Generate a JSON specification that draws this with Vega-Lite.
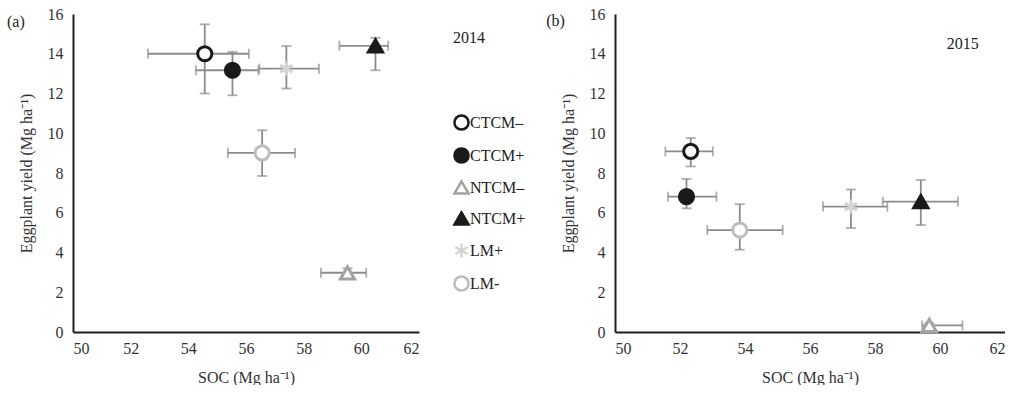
{
  "$schema": "https://vega.github.io/schema/vega-lite/v6.json",
  "background": "white",
  "padding": {"left": 7, "top": 6, "right": 0, "bottom": 0},
  "config": {
    "view": {"stroke": null},
    "font": "Liberation Serif",
    "axis": {
      "labelFont": "Liberation Serif",
      "labelFontSize": 16,
      "labelColor": "#333333",
      "titleFont": "Liberation Serif",
      "titleFontSize": 16,
      "titleFontWeight": "normal",
      "titleColor": "#333333",
      "domainColor": "#1e1e1e",
      "domainWidth": 2,
      "ticks": false,
      "grid": false,
      "labelOverlap": false
    },
    "axisX": {"labelPadding": 8, "titlePadding": 13},
    "axisY": {"labelPadding": 10, "titlePadding": 13},
    "legend": {
      "labelFont": "Liberation Serif",
      "labelFontSize": 16,
      "labelColor": "#222222",
      "labelOffset": 0,
      "titleFont": "Liberation Serif",
      "titleFontSize": 16,
      "titleFontWeight": "normal",
      "titleColor": "#222222",
      "symbolSize": 90,
      "symbolStrokeWidth": 2.5,
      "rowPadding": 8
    }
  },
  "datasets": {
    "points": [
      {"year": 2014, "treatment": "CTCM–", "soc": 54.57, "soc_lo": 52.6, "soc_hi": 56.1, "yld": 14.0, "yld_lo": 12.0, "yld_hi": 15.48},
      {"year": 2014, "treatment": "CTCM+", "soc": 55.53, "soc_lo": 54.26, "soc_hi": 56.43, "yld": 13.17, "yld_lo": 11.91, "yld_hi": 14.09},
      {"year": 2014, "treatment": "NTCM–", "soc": 59.52, "soc_lo": 58.6, "soc_hi": 60.17, "yld": 2.98, "yld_lo": 2.75, "yld_hi": 3.2},
      {"year": 2014, "treatment": "NTCM+", "soc": 60.49, "soc_lo": 59.24, "soc_hi": 60.93, "yld": 14.4, "yld_lo": 13.17, "yld_hi": 14.8},
      {"year": 2014, "treatment": "LM+", "soc": 57.4, "soc_lo": 56.46, "soc_hi": 58.53, "yld": 13.25, "yld_lo": 12.25, "yld_hi": 14.39},
      {"year": 2014, "treatment": "LM-", "soc": 56.56, "soc_lo": 55.37, "soc_hi": 57.7, "yld": 9.01, "yld_lo": 7.85, "yld_hi": 10.15},
      {"year": 2015, "treatment": "CTCM–", "soc": 52.33, "soc_lo": 51.55, "soc_hi": 53.01, "yld": 9.09, "yld_lo": 8.33, "yld_hi": 9.76},
      {"year": 2015, "treatment": "CTCM+", "soc": 52.2, "soc_lo": 51.63, "soc_hi": 53.12, "yld": 6.81, "yld_lo": 6.22, "yld_hi": 7.7},
      {"year": 2015, "treatment": "NTCM–", "soc": 59.67, "soc_lo": 59.45, "soc_hi": 60.69, "yld": 0.33, "yld_lo": 0.2, "yld_hi": 0.45},
      {"year": 2015, "treatment": "NTCM+", "soc": 59.41, "soc_lo": 58.24, "soc_hi": 60.55, "yld": 6.56, "yld_lo": 5.38, "yld_hi": 7.65},
      {"year": 2015, "treatment": "LM+", "soc": 57.26, "soc_lo": 56.4, "soc_hi": 58.38, "yld": 6.31, "yld_lo": 5.23, "yld_hi": 7.17},
      {"year": 2015, "treatment": "LM-", "soc": 53.84, "soc_lo": 52.84, "soc_hi": 55.16, "yld": 5.13, "yld_lo": 4.14, "yld_hi": 6.43}
    ],
    "notes": [
      {"year": 2014, "label": "(a)", "soc": 48.02, "yld": 15.58},
      {"year": 2015, "label": "(b)", "soc": 48.17, "yld": 15.66},
      {"year": 2015, "label": "2015", "soc": 60.7, "yld": 14.5}
    ]
  },
  "spacing": 4,
  "resolve": {
    "scale": {"x": "independent", "y": "independent", "shape": "independent", "fill": "independent", "stroke": "independent", "size": "independent"},
    "legend": {"shape": "independent", "fill": "independent", "stroke": "independent", "size": "independent"}
  },
  "hconcat": [
    {
      "width": 346,
      "height": 318,
      "layer": [
        {
          "data": {"name": "points"},
          "transform": [{"filter": "datum.year == 2014"}],
          "mark": {"type": "errorbar", "ticks": {"size": 10}, "color": "#8c8c8c", "thickness": 1.8},
          "encoding": {
            "x": {"field": "soc_lo", "type": "quantitative", "title": "SOC (Mg ha⁻¹)", "scale": {"domain": [50, 62], "nice": false}, "axis": {"values": [50, 52, 54, 56, 58, 60, 62], "labelOverlap": false}},
            "x2": {"field": "soc_hi"},
            "y": {"field": "yld", "type": "quantitative", "title": "Eggplant yield (Mg ha⁻¹)", "scale": {"domain": [0, 16], "nice": false}, "axis": {"values": [0, 2, 4, 6, 8, 10, 12, 14, 16], "labelOverlap": false, "tickCount": 9}}
          }
        },
        {
          "data": {"name": "points"},
          "transform": [{"filter": "datum.year == 2014"}],
          "mark": {"type": "errorbar", "ticks": {"size": 10}, "color": "#8c8c8c", "thickness": 1.8},
          "encoding": {
            "x": {"field": "soc", "type": "quantitative", "title": "SOC (Mg ha⁻¹)", "axis": {"values": [50, 52, 54, 56, 58, 60, 62], "labelOverlap": false}},
            "y": {"field": "yld_lo", "type": "quantitative", "title": "Eggplant yield (Mg ha⁻¹)", "axis": {"values": [0, 2, 4, 6, 8, 10, 12, 14, 16], "labelOverlap": false, "tickCount": 9}},
            "y2": {"field": "yld_hi"}
          }
        },
        {
          "data": {"name": "points"},
          "transform": [{"filter": "datum.year == 2014"}],
          "mark": {"type": "point", "strokeWidth": 3, "opacity": 1, "fillOpacity": 1, "strokeOpacity": 1},
          "encoding": {
            "x": {"field": "soc", "type": "quantitative", "title": "SOC (Mg ha⁻¹)", "axis": {"values": [50, 52, 54, 56, 58, 60, 62], "labelOverlap": false}},
            "y": {"field": "yld", "type": "quantitative", "title": "Eggplant yield (Mg ha⁻¹)", "axis": {"values": [0, 2, 4, 6, 8, 10, 12, 14, 16], "labelOverlap": false, "tickCount": 9}},
            "shape": {"field": "treatment", "type": "nominal", "scale": {"domain": ["CTCM–", "CTCM+", "NTCM–", "NTCM+", "LM+", "LM-"], "range": ["circle", "circle", "triangle-up", "triangle-up", "M0,-1L0,1M-0.866,-0.5L0.866,0.5M-0.866,0.5L0.866,-0.5", "circle"]}, "legend": {"title": "2014", "orient": "right", "offset": 18, "padding": 16, "titlePadding": 68}},
            "fill": {"field": "treatment", "type": "nominal", "scale": {"domain": ["CTCM–", "CTCM+", "NTCM–", "NTCM+", "LM+", "LM-"], "range": ["#ffffff", "#1a1a1a", "#ffffff", "#1a1a1a", "#ffffff", "#ffffff"]}, "legend": {"title": "2014", "orient": "right", "offset": 18, "padding": 16, "titlePadding": 68}},
            "stroke": {"field": "treatment", "type": "nominal", "scale": {"domain": ["CTCM–", "CTCM+", "NTCM–", "NTCM+", "LM+", "LM-"], "range": ["#1a1a1a", "#1a1a1a", "#a3a3a3", "#1a1a1a", "#d3d3d3", "#bdbdbd"]}, "legend": {"title": "2014", "orient": "right", "offset": 18, "padding": 16, "titlePadding": 68}}
          }
        },
        {
          "data": {"name": "points"},
          "transform": [{"filter": "datum.year == 2014"}],
          "mark": {"type": "point", "strokeWidth": 3, "opacity": 1, "fillOpacity": 1, "strokeOpacity": 1},
          "encoding": {
            "x": {"field": "soc", "type": "quantitative", "title": "SOC (Mg ha⁻¹)"},
            "y": {"field": "yld", "type": "quantitative", "title": "Eggplant yield (Mg ha⁻¹)"},
            "shape": {"field": "treatment", "type": "nominal", "legend": null},
            "fill": {"field": "treatment", "type": "nominal", "legend": null},
            "stroke": {"field": "treatment", "type": "nominal", "legend": null},
            "size": {"field": "treatment", "type": "nominal", "scale": {"domain": ["CTCM–", "CTCM+", "NTCM–", "NTCM+", "LM+", "LM-"], "range": [200, 200, 230, 230, 300, 200]}, "legend": null}
          }
        },
        {
          "data": {"name": "notes"},
          "transform": [{"filter": "datum.year == 2014"}],
          "mark": {"type": "text", "font": "Liberation Serif", "fontSize": 16, "color": "#222222", "align": "center", "baseline": "middle"},
          "encoding": {
            "x": {"field": "soc", "type": "quantitative", "title": "SOC (Mg ha⁻¹)"},
            "y": {"field": "yld", "type": "quantitative", "title": "Eggplant yield (Mg ha⁻¹)"},
            "text": {"field": "label"}
          }
        }
      ]
    },
    {
      "width": 390,
      "height": 318,
      "layer": [
        {
          "data": {"name": "points"},
          "transform": [{"filter": "datum.year == 2015"}],
          "mark": {"type": "errorbar", "ticks": {"size": 10}, "color": "#8c8c8c", "thickness": 1.8},
          "encoding": {
            "x": {"field": "soc_lo", "type": "quantitative", "title": "SOC (Mg ha⁻¹)", "scale": {"domain": [50, 62], "nice": false}, "axis": {"values": [50, 52, 54, 56, 58, 60, 62], "labelOverlap": false}},
            "x2": {"field": "soc_hi"},
            "y": {"field": "yld", "type": "quantitative", "title": "Eggplant yield (Mg ha⁻¹)", "scale": {"domain": [0, 16], "nice": false}, "axis": {"values": [0, 2, 4, 6, 8, 10, 12, 14, 16], "labelOverlap": false, "tickCount": 9}}
          }
        },
        {
          "data": {"name": "points"},
          "transform": [{"filter": "datum.year == 2015"}],
          "mark": {"type": "errorbar", "ticks": {"size": 10}, "color": "#8c8c8c", "thickness": 1.8},
          "encoding": {
            "x": {"field": "soc", "type": "quantitative", "title": "SOC (Mg ha⁻¹)", "axis": {"values": [50, 52, 54, 56, 58, 60, 62], "labelOverlap": false}},
            "y": {"field": "yld_lo", "type": "quantitative", "title": "Eggplant yield (Mg ha⁻¹)", "axis": {"values": [0, 2, 4, 6, 8, 10, 12, 14, 16], "labelOverlap": false, "tickCount": 9}},
            "y2": {"field": "yld_hi"}
          }
        },
        {
          "data": {"name": "points"},
          "transform": [{"filter": "datum.year == 2015"}],
          "mark": {"type": "point", "strokeWidth": 3, "opacity": 1, "fillOpacity": 1, "strokeOpacity": 1},
          "encoding": {
            "x": {"field": "soc", "type": "quantitative", "title": "SOC (Mg ha⁻¹)", "axis": {"values": [50, 52, 54, 56, 58, 60, 62], "labelOverlap": false}},
            "y": {"field": "yld", "type": "quantitative", "title": "Eggplant yield (Mg ha⁻¹)", "axis": {"values": [0, 2, 4, 6, 8, 10, 12, 14, 16], "labelOverlap": false, "tickCount": 9}},
            "shape": {"field": "treatment", "type": "nominal", "scale": {"domain": ["CTCM–", "CTCM+", "NTCM–", "NTCM+", "LM+", "LM-"], "range": ["circle", "circle", "triangle-up", "triangle-up", "M0,-1L0,1M-0.866,-0.5L0.866,0.5M-0.866,0.5L0.866,-0.5", "circle"]}, "legend": null},
            "fill": {"field": "treatment", "type": "nominal", "scale": {"domain": ["CTCM–", "CTCM+", "NTCM–", "NTCM+", "LM+", "LM-"], "range": ["#ffffff", "#1a1a1a", "#ffffff", "#1a1a1a", "#ffffff", "#ffffff"]}, "legend": null},
            "stroke": {"field": "treatment", "type": "nominal", "scale": {"domain": ["CTCM–", "CTCM+", "NTCM–", "NTCM+", "LM+", "LM-"], "range": ["#1a1a1a", "#1a1a1a", "#a3a3a3", "#1a1a1a", "#d3d3d3", "#bdbdbd"]}, "legend": null},
            "size": {"field": "treatment", "type": "nominal", "scale": {"domain": ["CTCM–", "CTCM+", "NTCM–", "NTCM+", "LM+", "LM-"], "range": [200, 200, 230, 230, 300, 200]}, "legend": null}
          }
        },
        {
          "data": {"name": "notes"},
          "transform": [{"filter": "datum.year == 2015"}],
          "mark": {"type": "text", "font": "Liberation Serif", "fontSize": 16, "color": "#222222", "align": "center", "baseline": "middle"},
          "encoding": {
            "x": {"field": "soc", "type": "quantitative", "title": "SOC (Mg ha⁻¹)"},
            "y": {"field": "yld", "type": "quantitative", "title": "Eggplant yield (Mg ha⁻¹)"},
            "text": {"field": "label"}
          }
        }
      ]
    }
  ]
}
